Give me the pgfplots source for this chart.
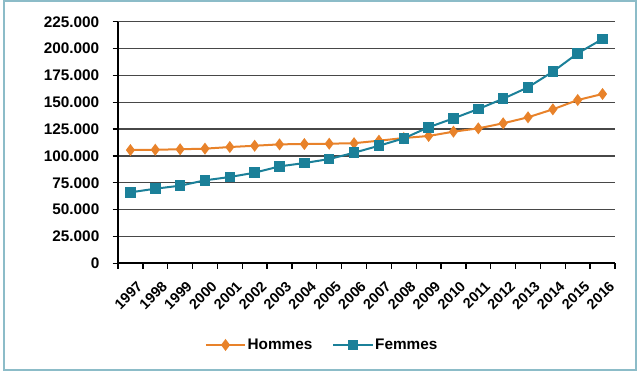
\documentclass[border=0pt]{standalone}
\usepackage{pgfplots}
\pgfplotsset{compat=1.18}
\usepackage{fontspec}
\setmainfont{Liberation Sans}
\definecolor{homme}{HTML}{E8822A}
\definecolor{femme}{HTML}{1B8099}
\definecolor{framec}{HTML}{8CBCC8}
\begin{document}
\begin{tikzpicture}
\path[use as bounding box] (-88.5pt,-88.3pt) rectangle (394.5pt,197.5pt);
\draw[framec, line width=1.3pt] (-85.5pt,-80pt) rectangle (388.5pt,196.7pt);
\begin{axis}[
  at={(0,0)}, anchor=south west,
  scale only axis, width=372.75pt, height=181.2pt,
  xmin=0, xmax=20, ymin=0, ymax=225000,
  ytick={0,25000,...,225000},
  xtick={0.5,1.5,...,19.5},
  xticklabels={1997,1998,1999,2000,2001,2002,2003,2004,2005,2006,2007,2008,2009,2010,2011,2012,2013,2014,2015,2016},
  minor xtick={0,1,...,20},
  axis x line*=bottom, axis y line*=left,
  axis line style={-, line width=1.6pt, black},
  tick align=outside,
  major tick length=4pt, minor tick length=4pt,
  major x tick style={draw=none},
  minor x tick style={black, line width=1pt},
  major y tick style={black, line width=1pt},
  ymajorgrids, grid style={line width=1pt, color=black!72},
  /pgf/number format/assume math mode=true,
  /pgf/number format/fixed,
  /pgf/number format/1000 sep={.},
  scaled y ticks=false,
  yticklabel style={font=\bfseries\fontsize{11.5}{13}\selectfont, xshift=-6.5pt},
  xticklabel style={font=\bfseries\fontsize{10.8}{12}\selectfont, rotate=45, anchor=north east, inner sep=1pt, xshift=-2pt, yshift=-8pt},
  clip=false,
  legend style={at={(0.41,-0.338)}, anchor=center, draw=none, fill=none,
    legend columns=2, font=\bfseries\fontsize{11.5}{13}\selectfont,
    nodes={inner sep=1pt},
    /tikz/every even column/.append style={column sep=14pt}},
  legend image code/.code={\draw[mark repeat=2,mark phase=2] plot coordinates {(0cm,0cm) (0.52cm,0cm) (1.04cm,0cm)};},
]
\addplot[homme, line width=1.5pt, mark=diamond*, mark size=3.3pt, mark options={solid, fill=homme}] coordinates {
(0.5,105500) (1.5,105800) (2.5,106200) (3.5,106800) (4.5,108300) (5.5,109500) (6.5,110800) (7.5,111100) (8.5,111400) (9.5,111900) (10.5,114200) (11.5,116700) (12.5,118600) (13.5,122600) (14.5,125700) (15.5,130400) (16.5,136000) (17.5,143400) (18.5,152100) (19.5,157700)};
\addlegendentry{Hommes}
\addplot[femme, line width=1.5pt, mark=square*, mark size=3.2pt, mark options={solid, fill=femme}] coordinates {
(0.5,66100) (1.5,69500) (2.5,72300) (3.5,77300) (4.5,80400) (5.5,84400) (6.5,90300) (7.5,93400) (8.5,97100) (9.5,103000) (10.5,109500) (11.5,116400) (12.5,126700) (13.5,135000) (14.5,143700) (15.5,153300) (16.5,163900) (17.5,178500) (18.5,195600) (19.5,208900)};
\addlegendentry{Femmes}
\end{axis}
\end{tikzpicture}
\end{document}
